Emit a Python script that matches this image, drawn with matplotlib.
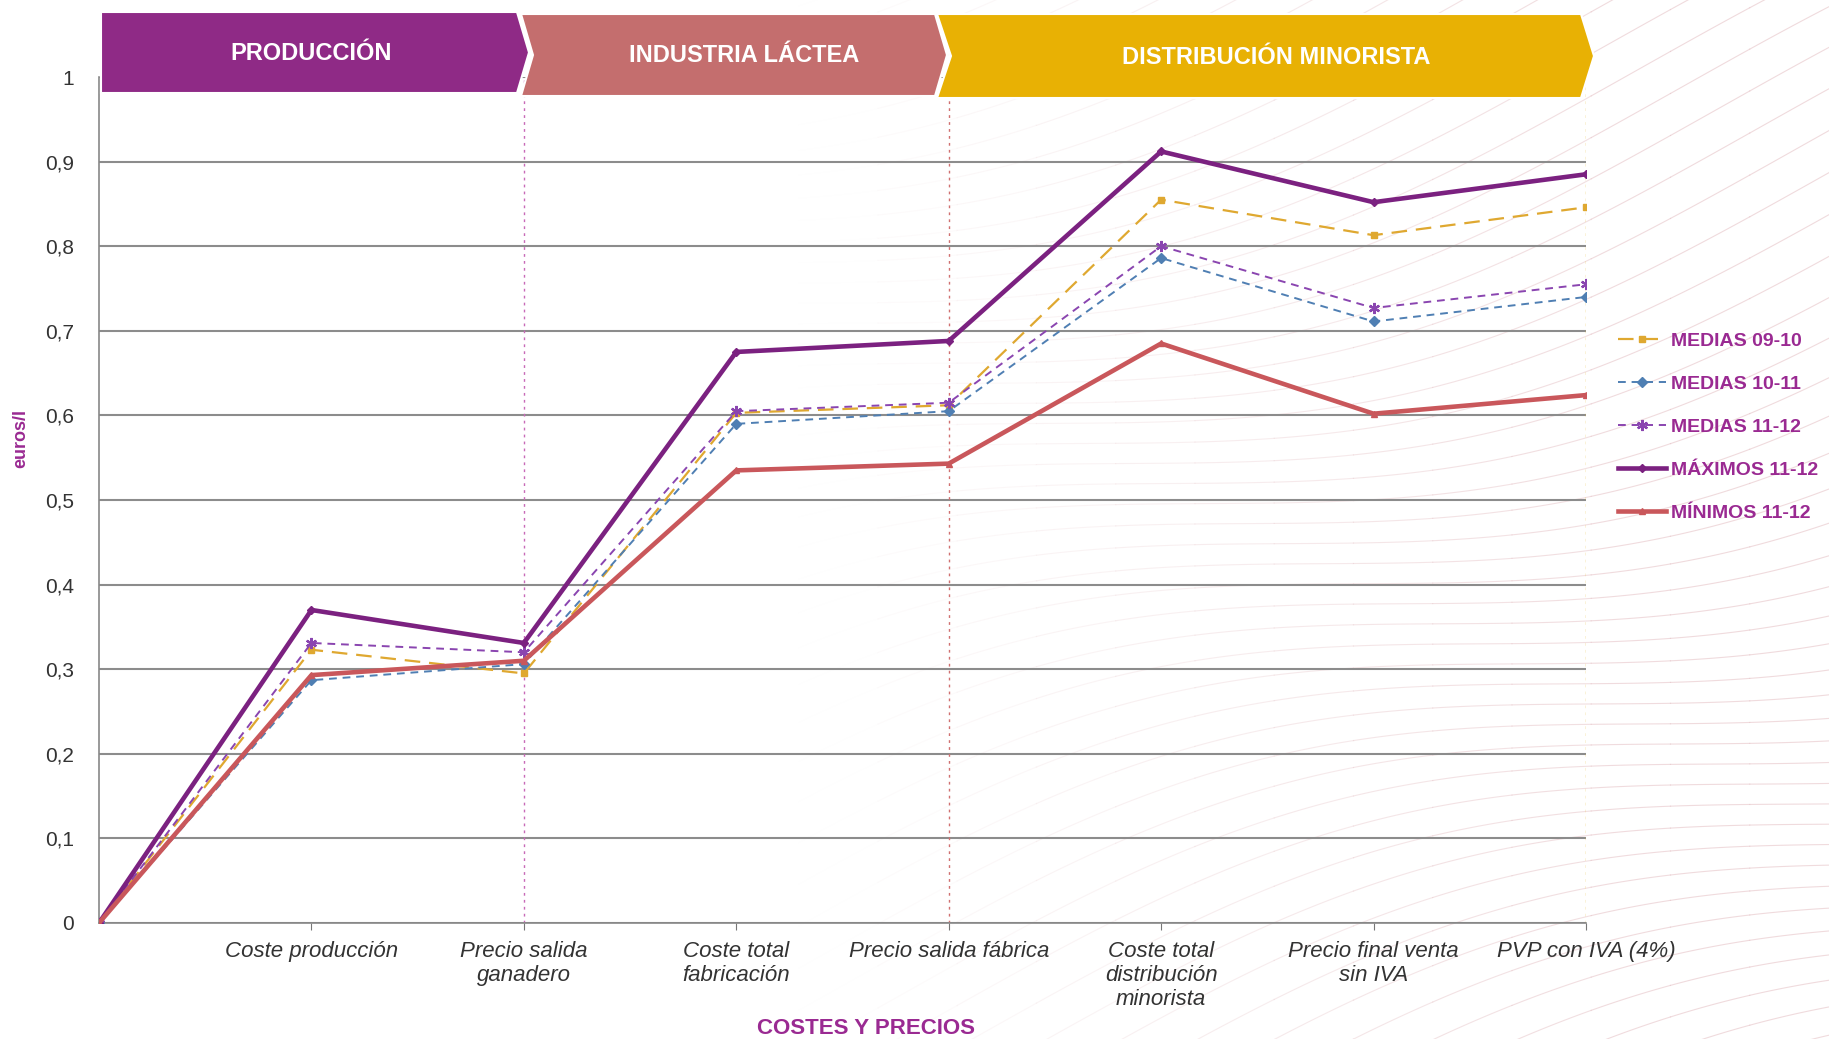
import numpy as np
import matplotlib
matplotlib.use("Agg")
import matplotlib.pyplot as plt
from matplotlib.patches import Polygon

# ---- data ----
categories = [
    "",
    "Coste producción",
    "Precio salida\nganadero",
    "Coste total\nfabricación",
    "Precio salida fábrica",
    "Coste total\ndistribución\nminorista",
    "Precio final venta\nsin IVA",
    "PVP con IVA (4%)",
]
medias_09_10 = [0, 0.323, 0.295, 0.603, 0.612, 0.855, 0.813, 0.846]
medias_10_11 = [0, 0.287, 0.306, 0.590, 0.605, 0.786, 0.711, 0.740]
medias_11_12 = [0, 0.331, 0.320, 0.605, 0.615, 0.800, 0.727, 0.755]
maximos_11_12 = [0, 0.370, 0.331, 0.675, 0.688, 0.912, 0.852, 0.885]
minimos_11_12 = [0, 0.293, 0.310, 0.535, 0.543, 0.685, 0.602, 0.624]

stages = ["PRODUCCIÓN", "INDUSTRIA LÁCTEA", "DISTRIBUCIÓN MINORISTA"]
y_ticks = [0, 0.1, 0.2, 0.3, 0.4, 0.5, 0.6, 0.7, 0.8, 0.9, 1]
y_tick_labels = ["0", "0,1", "0,2", "0,3", "0,4", "0,5", "0,6", "0,7", "0,8", "0,9", "1"]

W, H = 1829, 1039
fig = plt.figure(figsize=(W / 100, H / 100), dpi=100)
fig.patch.set_facecolor("white")

font = ["Liberation Sans", "DejaVu Sans"]
purple_txt = "#9a2a92"

# faint decorative background waves (right side)
bg = fig.add_axes([0, 0, 1, 1], zorder=-5)
bg.set_xlim(0, 1)
bg.set_ylim(0, 1)
bg.axis("off")
t = np.linspace(0.35, 1.0, 301)
for k in range(80):
    base = -0.6 + k * 0.03
    yy = base + 0.5 * (t - 0.35) + 0.07 * np.sin(7 * t + k * 0.15)
    fade = np.clip((t - 0.45) / 0.45, 0, 1)
    for i in range(0, len(t) - 1, 20):
        j = min(i + 21, len(t))
        bg.plot(t[i:j], yy[i:j], color="#e6c3c7",
                alpha=0.6 * fade[min(i + 10, len(t) - 1)], lw=0.8)

# ---- main axes ----
x0, x1 = 99 / W, 1586 / W
yb, yt = 923 / H, 77 / H
ax = fig.add_axes([x0, 1 - yb, x1 - x0, yb - yt])
ax.set_facecolor("none")
x = np.arange(len(categories))

ax.plot(x, medias_09_10, color="#dfa830", lw=1.6, ls=(0, (7, 4)),
        marker="s", ms=5, label="MEDIAS 09-10", zorder=3)
ax.plot(x, medias_10_11, color="#4f7fb3", lw=1.4, ls=(0, (4, 3)),
        marker="D", ms=5, label="MEDIAS 10-11", zorder=3)
ax.plot(x, medias_11_12, color="#8a45b0", lw=1.4, ls=(0, (4, 3)),
        marker=(6, 2, 0), ms=8, mew=1.6, label="MEDIAS 11-12", zorder=3)
ax.plot(x, maximos_11_12, color="#7b2180", lw=3.3,
        marker="D", ms=4, label="MÁXIMOS 11-12", zorder=4)
ax.plot(x, minimos_11_12, color="#c9575b", lw=3.3,
        marker="^", ms=5, label="MÍNIMOS 11-12", zorder=4)

# stage separators
ax.axvline(2, color="#c86ab8", lw=1.0, ls=(0, (2, 3)), zorder=1)
ax.axvline(4, color="#d07070", lw=1.0, ls=(0, (2, 3)), zorder=1)
ax.axvline(7, color="#e8c040", lw=1.0, ls=(0, (2, 3)), zorder=1)

ax.set_xlim(0, 7)
ax.set_ylim(0, 1)
ax.set_yticks(y_ticks)
ax.set_yticklabels(y_tick_labels)
ax.set_xticks(x[1:])
ax.set_xticklabels(categories[1:], style="italic", family=font,
                   fontsize=16, color="#333333")
ax.tick_params(axis="y", labelsize=15, colors="#333333", length=0, pad=18)
ax.tick_params(axis="x", length=5, color="#777777", pad=8)
for lbl in ax.get_yticklabels():
    lbl.set_family(font)
ax.grid(axis="y", color="#8c8c8c", lw=1.5)
ax.set_axisbelow(True)
for s in ["top", "right"]:
    ax.spines[s].set_visible(False)
ax.spines["left"].set_color("#888888")
ax.spines["bottom"].set_color("#888888")
ax.spines["left"].set_linewidth(1.2)
ax.spines["bottom"].set_linewidth(1.2)

fig.text(21 / W, 1 - 438 / H, "euros/l", rotation=90, ha="center", va="center",
         color=purple_txt, fontsize=13, fontweight="bold", family=font)
fig.text(866 / W, 1 - 1028 / H, "COSTES Y PRECIOS", ha="center", va="center",
         color=purple_txt, fontsize=16, fontweight="bold", family=font)

# ---- stage banners ----
banner_cols = ["#8f2a86", "#c46e6e", "#e8b104"]
shapes = [
    (101, None, 517, 529, 12, 93),
    (521, 533, 935, 947, 14, 96),
    (937, 951, 1581, 1594, 14, 98),
]
centers = [(311, 54), (744, 56), (1276, 57)]
for (l, notch, r, tip, top, bot), col, name, (cx, cy) in zip(
        shapes, banner_cols, stages, centers):
    mid = (top + bot) / 2
    pts = [(l, top), (r, top), (tip, mid), (r, bot), (l, bot)]
    if notch is not None:
        pts.append((notch, mid))
    pts = [(px / W, 1 - py / H) for px, py in pts]
    fig.patches.append(Polygon(pts, closed=True, facecolor=col,
                               edgecolor="white", lw=1.5,
                               transform=fig.transFigure, zorder=5))
    fig.text(cx / W, 1 - cy / H, name, ha="center", va="center",
             color="white", fontsize=17, fontweight="bold",
             family=font, zorder=6)

leg = fig.legend(loc="center left", bbox_to_anchor=(1600 / W, 1 - 427 / H),
                 frameon=False, handlelength=2.5,
                 handletextpad=0.25, labelspacing=1.3,
                 prop={"family": font, "weight": "bold", "size": 14})
for txt in leg.get_texts():
    txt.set_color(purple_txt)

fig.savefig("out.png", dpi=100, facecolor="white")
